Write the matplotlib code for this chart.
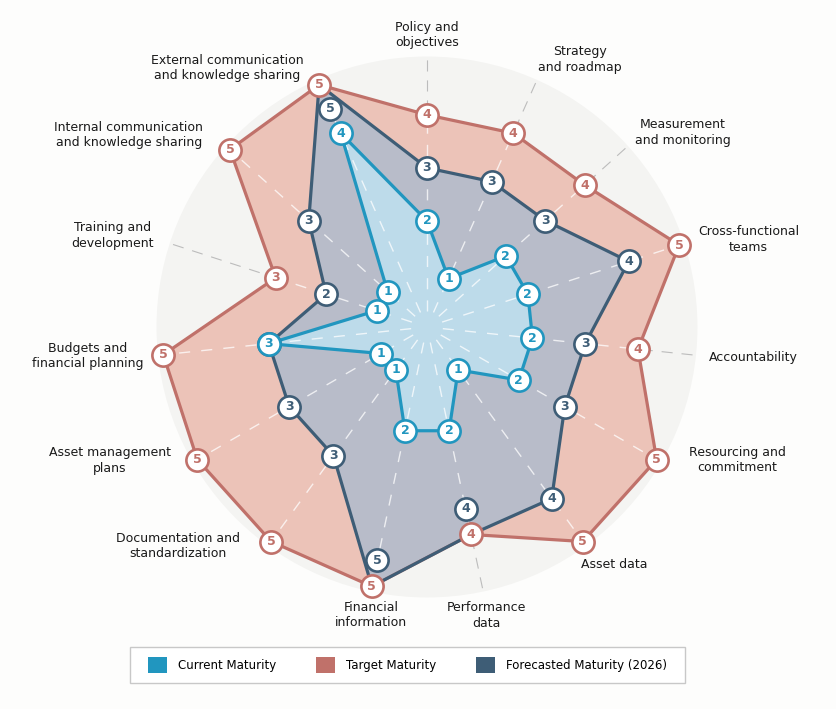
import numpy as np
import matplotlib
matplotlib.use('Agg')
import matplotlib.pyplot as plt
from matplotlib.patches import Patch, Circle, Rectangle

# Данные
categories = ['Policy and\nobjectives', 'Strategy\nand roadmap', 'Measurement\nand monitoring',
              'Cross-functional\nteams', 'Accountability', 'Resourcing and\ncommitment',
              'Asset data', 'Performance\ndata', 'Financial\ninformation',
              'Documentation and\nstandardization', 'Asset management\nplans',
              'Budgets and\nfinancial planning', 'Training and\ndevelopment',
              'Internal communication\nand knowledge sharing',
              'External communication\nand knowledge sharing']
current = [2, 1, 2, 2, 2, 2, 1, 2, 2, 1, 1, 3, 1, 1, 4]
target = [4, 4, 4, 5, 4, 5, 5, 4, 5, 5, 5, 5, 3, 5, 5]
forecast = [3, 3, 3, 4, 3, 3, 4, 4, 5, 3, 3, 3, 2, 3, 5]
legend_labels = ['Current Maturity', 'Target Maturity', 'Forecasted Maturity (2026)']

# Расположение подписей категорий (угол в градусах, радиус)
label_angle = [0, 29.8, 52.8, 74.8, 95.4, 113.2, 141.7, 168.4, 191.0,
               228.7, 247.2, 265.1, 286.2, 302.8, 322.3]
label_radius = [5.51, 5.81, 6.06, 6.28, 6.18, 6.36, 5.70, 5.55, 5.53,
                6.26, 6.49, 6.42, 6.17, 6.69, 6.17]

# Цвета
c_cur, c_tgt, c_fc = '#2196bf', '#c0716a', '#3e5d76'
f_cur, f_tgt, f_fc = '#bddbea', '#ecc3b8', '#b8bcc9'

plt.rcParams['font.family'] = ['DejaVu Sans']

n = len(categories)
theta = np.arange(n) * 2 * np.pi / n

def closed(v):
    return list(theta) + [theta[0]], list(v) + [v[0]]

fig = plt.figure(figsize=(8.36, 7.09), dpi=100, facecolor='#fdfdfc')
ax = fig.add_axes([0.1555, 0.1199, 0.7105, 0.8378], projection='polar')
ax.set_theta_zero_location('N')
ax.set_theta_direction(-1)
ax.set_ylim(0, 5.6)
ax.axis('off')

# Фоновый круг
ax.add_patch(Circle((0.5, 0.5), 0.5 * 5.1 / 5.6, transform=ax.transAxes,
                    fc='#f4f4f2', ec='none', zorder=0))

# Серые пунктирные оси
for a in theta:
    ax.plot([a, a], [0.3, 5.05], color='#bcbcbc', lw=0.8, dashes=(10, 8), zorder=1)

# Заливки
t, v = closed(target)
tgt_poly = ax.fill(t, v, color=f_tgt, zorder=2)[0]
t, v = closed(forecast)
ax.fill(t, v, color=f_fc, zorder=2.1)
t, v = closed(current)
ax.fill(t, v, color=f_cur, zorder=2.2)

# Белые оси поверх заливок
for a in theta:
    ln, = ax.plot([a, a], [0.3, 5.05], color='white', lw=1.0, alpha=0.75,
                  dashes=(8, 8), zorder=2.5)
    ln.set_clip_path(tgt_poly)

# Линии
for vals, col, z in [(target, c_tgt, 3), (forecast, c_fc, 3.1), (current, c_cur, 3.2)]:
    t, v = closed(vals)
    ax.plot(t, v, color=col, lw=2.3, zorder=z, solid_joinstyle='miter')

# Маркеры с подписями значений
def markers(vals, col, z, shift=None):
    pos = [val - 0.5 if shift is not None and val == shift[i] else val
           for i, val in enumerate(vals)]
    for i in reversed(range(n)):
        ax.plot(theta[i], pos[i], 'o', ms=16, mfc='white', mec=col, mew=1.9, zorder=z)
        ax.text(theta[i], pos[i], str(vals[i]), ha='center', va='center', color=col,
                fontsize=9, fontweight='bold', zorder=z + 0.05)

markers(target, c_tgt, 4)
markers(forecast, c_fc, 5, shift=target)
markers(current, c_cur, 6)

# Подписи категорий
for ang, r, lab in zip(label_angle, label_radius, categories):
    ax.text(np.deg2rad(ang), r, lab, ha='center', va='center', fontsize=9,
            color='#1a1a1a', linespacing=1.25)

# Легенда
fig.add_artist(Rectangle((130 / 836, 1 - 683 / 709), 555 / 836, 36 / 709,
                         transform=fig.transFigure, fc='white', ec='#c8c8c8', lw=1.0))
handles = [Patch(fc=c, ec='none') for c in (c_cur, c_tgt, c_fc)]
fig.legend(handles, legend_labels, loc='center left',
           bbox_to_anchor=(148 / 836, 1 - 665 / 709, 519 / 836, 0), mode='expand',
           ncol=3, fontsize=8.5, frameon=False,
           handlelength=1.65, handleheight=1.65, handletextpad=0.9,
           borderpad=0, borderaxespad=0)

fig.savefig('out.png', dpi=100, facecolor=fig.get_facecolor())
